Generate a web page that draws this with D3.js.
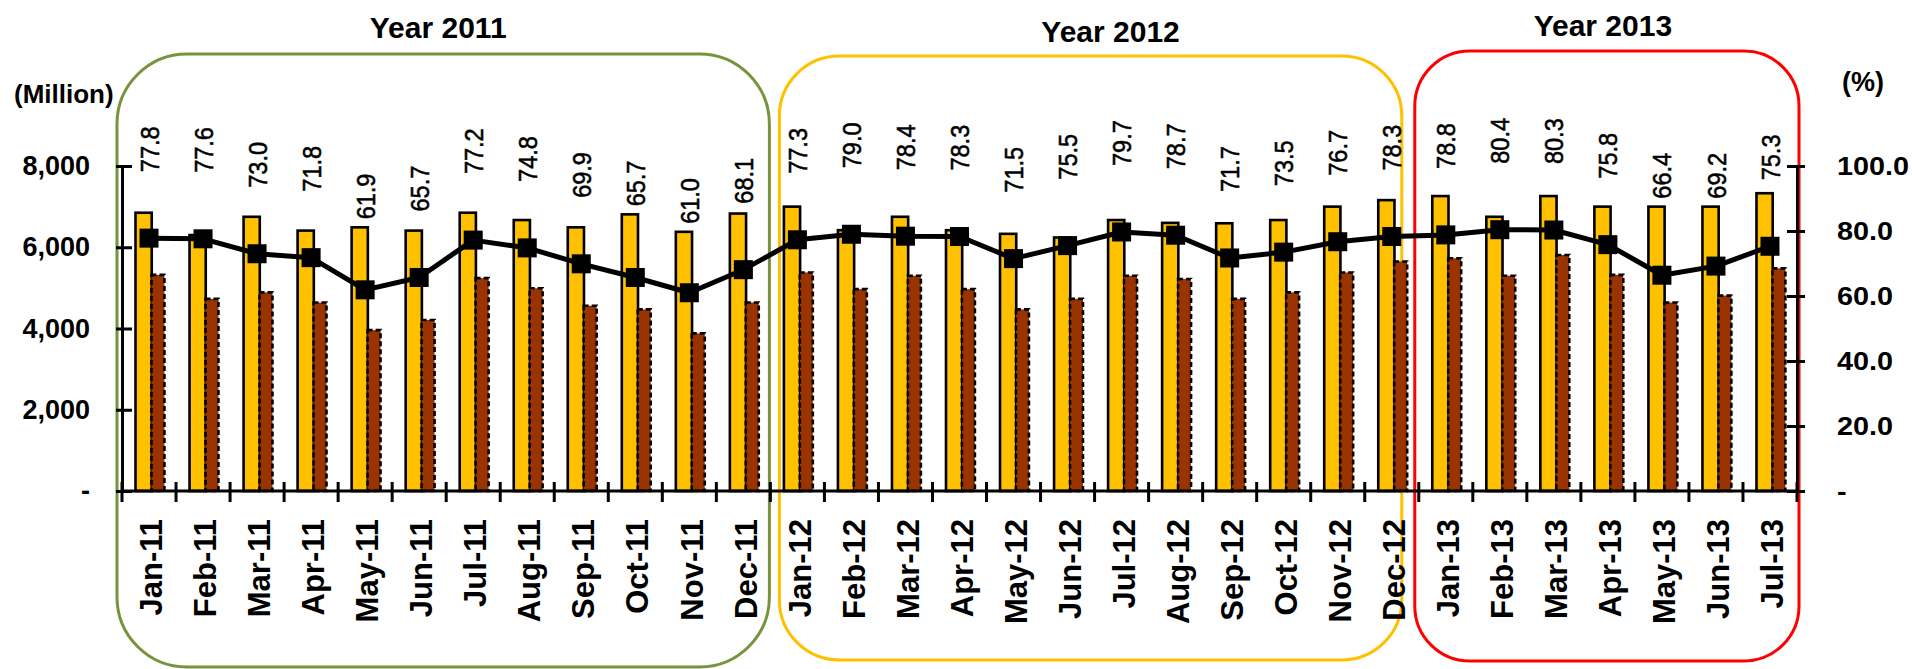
<!DOCTYPE html>
<html>
<head>
<meta charset="utf-8">
<script src="https://cdn.jsdelivr.net/npm/d3@7"></script>
<style>
  html, body { margin: 0; padding: 0; background: #fff; }
  svg { display: block; font-family: "Liberation Sans", Arial, sans-serif; }
</style>
</head>
<body>
<svg id="chart" width="1912" height="669"></svg>
<script>
// ---------- DATA ----------
const categories = ["Jan-11","Feb-11","Mar-11","Apr-11","May-11","Jun-11","Jul-11","Aug-11","Sep-11","Oct-11","Nov-11","Dec-11",
  "Jan-12","Feb-12","Mar-12","Apr-12","May-12","Jun-12","Jul-12","Aug-12","Sep-12","Oct-12","Nov-12","Dec-12",
  "Jan-13","Feb-13","Mar-13","Apr-13","May-13","Jun-13","Jul-13"];
const seriesA = [6850,6300,6750,6410,6490,6410,6850,6670,6490,6810,6380,6830,
  7000,6420,6750,6420,6330,6240,6670,6600,6590,6670,7000,7160,
  7260,6750,7260,7000,7000,7000,7330];
const seriesB = [5320,4730,4890,4640,3960,4210,5240,4990,4560,4470,3880,4640,
  5380,4970,5300,4970,4470,4730,5300,5220,4730,4890,5380,5650,
  5730,5300,5810,5320,4640,4810,5480];
const ratio = [77.8,77.6,73.0,71.8,61.9,65.7,77.2,74.8,69.9,65.7,61.0,68.1,
  77.3,79.0,78.4,78.3,71.5,75.5,79.7,78.7,71.7,73.5,76.7,78.3,
  78.8,80.4,80.3,75.8,66.4,69.2,75.3];
const leftTicks = [0,2000,4000,6000,8000];
const rightTicks = [0,20,40,60,80,100];
const yearNames = ["Year 2011","Year 2012","Year 2013"];
const yearFirst = ["Jan-11","Jan-12","Jan-13"];
const yearLast = ["Dec-11","Dec-12","Jul-13"];
const leftUnit = "(Million)";
const rightUnit = "(%)";

// ---------- LAYOUT ----------
const svg = d3.select("#chart");
const X0 = 122, X1 = 1797, YB = 491, YT = 166;
const SX = 1.13; // horizontal stretch seen in the reference text
const x = d3.scaleBand().domain(categories).range([X0, X1]).padding(0);
const bw = x.bandwidth();
const yL = d3.scaleLinear().domain([0, 8000]).range([YB, YT]);
const yR = d3.scaleLinear().domain([0, 100]).range([YB, YT]);
const cx = c => x(c) + bw / 2;

// ---------- YEAR BOXES ----------
const boxStyle = [
  {color: "#77933C", l: -5, r: -1, t: 54, b: 667, rad: 70, tx: -5, ty: 38},
  {color: "#FFC000", l: 9, r: -17, t: 56, b: 660, rad: 60, tx: 20, ty: 42},
  {color: "#FF0000", l: -4, r: 2, t: 51, b: 661, rad: 55, tx: -4, ty: 36}
];
yearNames.forEach((nm, i) => {
  const s = boxStyle[i];
  const left = x(yearFirst[i]) + s.l;
  const right = x(yearLast[i]) + bw + s.r;
  svg.append("rect")
    .attr("x", left).attr("y", s.t)
    .attr("width", right - left).attr("height", s.b - s.t)
    .attr("rx", s.rad).attr("ry", s.rad)
    .attr("fill", "none").attr("stroke", s.color).attr("stroke-width", 3);
  svg.append("text")
    .attr("x", (left + right) / 2 + s.tx).attr("y", s.ty)
    .attr("text-anchor", "middle")
    .attr("font-size", 30).attr("font-weight", "bold")
    .text(nm);
});

// ---------- BARS ----------
const g = svg.append("g");
g.selectAll("rect.a").data(categories).join("rect")
  .attr("class", "a")
  .attr("x", c => x(c) + bw * 0.25)
  .attr("width", bw * 0.30)
  .attr("y", (c, i) => yL(seriesA[i]))
  .attr("height", (c, i) => YB - yL(seriesA[i]))
  .attr("fill", "#FFC000").attr("stroke", "#000").attr("stroke-width", 2.6);
g.selectAll("rect.b").data(categories).join("rect")
  .attr("class", "b")
  .attr("x", c => x(c) + bw * 0.545)
  .attr("width", bw * 0.24)
  .attr("y", (c, i) => yL(seriesB[i]))
  .attr("height", (c, i) => YB - yL(seriesB[i]))
  .attr("fill", "#993300").attr("stroke", "#000").attr("stroke-width", 2.6)
  .attr("stroke-dasharray", "5,3");

// ---------- AXES ----------
const axL = svg.append("g").attr("transform", `translate(${X0},0)`)
  .call(d3.axisLeft(yL).tickValues(leftTicks).tickSizeOuter(0)
    .tickFormat(d => d === 0 ? "-" : d3.format(",")(d)));
axL.select(".domain").attr("stroke", "#000").attr("stroke-width", 3);
axL.selectAll(".tick line").attr("x1", -6).attr("x2", 10).attr("stroke", "#000").attr("stroke-width", 3);
axL.selectAll(".tick text").attr("x", -32).attr("font-size", 27).attr("font-weight", "bold")
  .attr("font-family", "Liberation Sans, Arial, sans-serif").attr("fill", "#000");

const axR = svg.append("g").attr("transform", `translate(${X1},0)`)
  .call(d3.axisRight(yR).tickValues(rightTicks).tickSizeOuter(0)
    .tickFormat(d => d === 0 ? "-" : d3.format(".1f")(d)));
axR.select(".domain").attr("stroke", "#000").attr("stroke-width", 3);
axR.selectAll(".tick line").attr("x1", -10).attr("x2", 8).attr("stroke", "#000").attr("stroke-width", 3);
axR.selectAll(".tick text").attr("x", 0).attr("font-size", 25.5).attr("font-weight", "bold")
  .attr("font-family", "Liberation Sans, Arial, sans-serif").attr("fill", "#000")
  .attr("transform", `translate(40,0) scale(${SX},1)`);

svg.append("line").attr("x1", X0).attr("x2", X1).attr("y1", YB).attr("y2", YB)
  .attr("stroke", "#000").attr("stroke-width", 3);
const bounds = categories.map(c => x(c)).concat([X1]);
svg.selectAll("line.xt").data(bounds).join("line").attr("class", "xt")
  .attr("x1", d => d).attr("x2", d => d).attr("y1", 482).attr("y2", 502)
  .attr("stroke", "#000").attr("stroke-width", 3);
svg.selectAll("text.xl").data(categories).join("text").attr("class", "xl")
  .attr("transform", c => `translate(${cx(c) + 2},519) rotate(-90)`)
  .attr("text-anchor", "end").attr("dy", "0.36em")
  .attr("font-size", 31).attr("font-weight", "bold")
  .text(c => c);

svg.append("text").attr("x", 14).attr("y", 103).attr("font-size", 26).attr("font-weight", "bold").text(leftUnit);
svg.append("text").attr("x", 1842).attr("y", 91).attr("font-size", 27).attr("font-weight", "bold").text(rightUnit);

// ---------- LINE ----------
const line = d3.line().x((d, i) => cx(categories[i])).y(d => yR(d));
svg.append("path").datum(ratio).attr("d", line)
  .attr("fill", "none").attr("stroke", "#000").attr("stroke-width", 5).attr("stroke-linejoin", "round");
const ms = 19;
svg.selectAll("rect.m").data(ratio).join("rect").attr("class", "m")
  .attr("x", (d, i) => cx(categories[i]) - ms / 2)
  .attr("y", d => yR(d) - ms / 2)
  .attr("width", ms).attr("height", ms).attr("fill", "#000");

// data labels: above the point, kept clear of the taller bar
svg.selectAll("text.dl").data(ratio).join("text").attr("class", "dl")
  .attr("transform", (d, i) => {
    const yy = Math.min(yR(d) - 66, yL(seriesA[i]) - 8);
    return `translate(${cx(categories[i])},${yy}) scale(${SX},1) rotate(-90)`;
  })
  .attr("text-anchor", "start").attr("dy", "0.36em")
  .attr("font-size", 23.5)
  .attr("stroke", "#000").attr("stroke-width", 0.5)
  .text(d => d3.format(".1f")(d));
</script>
</body>
</html>
